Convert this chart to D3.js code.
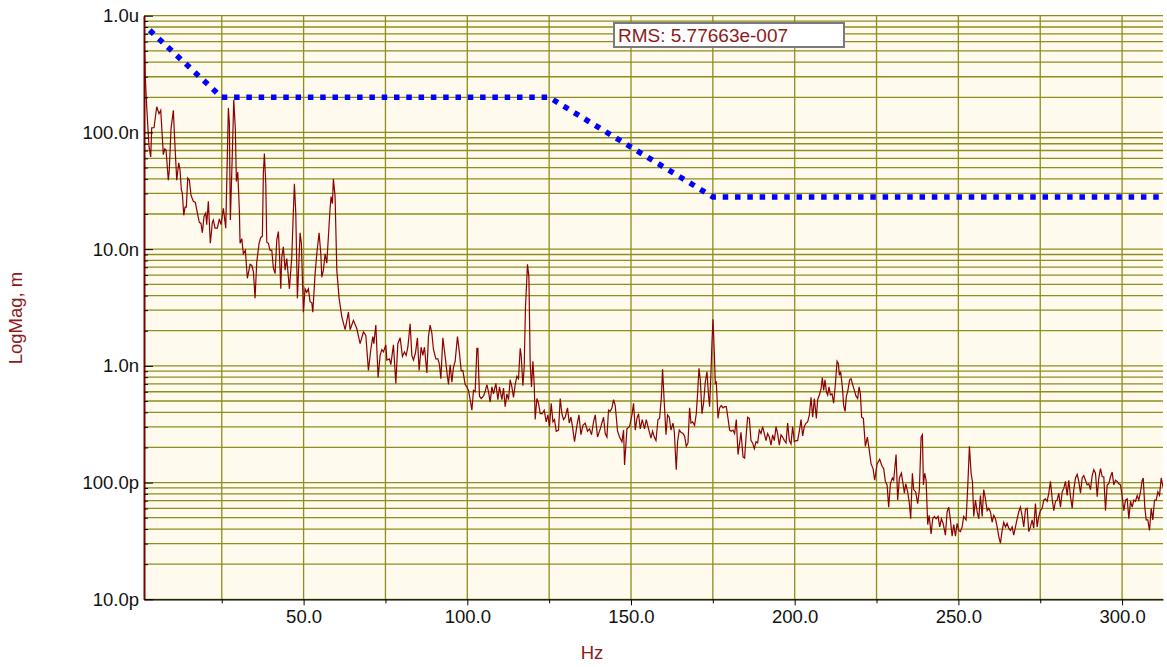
<!DOCTYPE html>
<html>
<head>
<meta charset="utf-8">
<script src="https://cdn.jsdelivr.net/npm/d3@7"></script>
<style>
  body { margin: 0; background: #ffffff; }
  text { font-family: "Liberation Sans", Arial, sans-serif; }
</style>
</head>
<body>
<svg id="chart" width="1167" height="667"></svg>
<script>
// spectrum, frequency in Hz and log10 of magnitude in metres
const specHz = [
  1.25, 1.65, 2.08, 2.78, 3.30, 3.61, 4.31, 5.13, 5.84, 6.36, 6.85, 7.15, 7.58, 7.98, 8.68, 8.98, 9.50, 10.21, 10.63, 11.25,
  11.86, 12.25, 12.65, 12.96, 13.39, 13.78, 14.18, 14.61, 15.10, 15.62, 16.32, 16.93, 17.54, 18.15, 18.67, 19.07, 19.59, 20.11, 20.41, 20.90,
  21.51, 22.13, 22.43, 22.95, 23.65, 24.27, 24.78, 25.49, 26.22, 27.02, 27.32, 27.63, 28.15, 28.67, 29.15, 29.46, 29.89, 30.38, 30.59, 31.11,
  31.60, 32.21, 32.82, 33.65, 34.17, 34.66, 35.17, 35.69, 36.40, 36.92, 37.41, 37.71, 38.02, 38.45, 38.75, 39.24, 39.76, 40.28, 40.77, 41.29,
  41.81, 42.30, 42.60, 43.03, 43.33, 43.82, 44.34, 44.86, 45.26, 45.66, 46.39, 46.88, 47.19, 47.61, 48.10, 48.41, 48.93, 49.32, 49.94, 50.45,
  50.97, 51.46, 51.98, 52.50, 52.81, 53.51, 54.03, 54.73, 55.25, 55.56, 56.05, 56.57, 57.09, 57.58, 58.09, 58.40, 58.80, 59.10, 59.62, 60.14,
  60.84, 61.67, 62.68, 63.69, 64.21, 65.21, 66.25, 67.26, 68.27, 69.01, 69.80, 70.53, 71.14, 71.45, 72.06, 72.76, 73.37, 73.89, 74.38, 75.12,
  75.42, 76.22, 76.64, 77.44, 78.17, 78.78, 79.49, 80.19, 80.80, 81.32, 81.84, 82.54, 83.06, 83.55, 84.16, 84.77, 85.29, 85.90, 86.42, 86.91,
  87.65, 88.14, 88.65, 89.17, 89.66, 90.40, 91.01, 91.50, 91.92, 92.54, 93.24, 93.76, 94.25, 94.77, 95.29, 95.78, 96.29, 97.00, 97.61, 98.13,
  98.65, 99.35, 99.87, 100.36, 100.88, 101.40, 101.89, 102.41, 102.93, 103.23, 103.72, 104.24, 104.94, 105.46, 105.98, 106.47, 106.99, 107.51, 108.00, 108.73,
  109.34, 109.83, 110.57, 111.06, 111.57, 112.09, 112.58, 113.10, 113.62, 114.11, 114.63, 115.15, 115.64, 116.16, 116.46, 116.98, 117.38, 117.78, 118.39, 118.82,
  119.21, 119.61, 120.04, 120.44, 120.74, 121.26, 121.75, 122.27, 122.88, 123.49, 124.10, 124.62, 125.11, 125.63, 126.15, 126.64, 127.16, 127.86, 128.38, 128.90,
  129.39, 129.91, 130.61, 131.13, 131.65, 132.14, 132.75, 133.49, 134.10, 134.71, 135.32, 136.02, 136.73, 137.34, 137.95, 138.56, 139.08, 139.78, 140.61, 141.62,
  142.13, 142.65, 143.14, 143.66, 144.18, 144.67, 145.19, 145.89, 146.50, 147.24, 147.73, 148.03, 148.77, 149.56, 150.29, 150.78, 151.30, 151.82, 152.31, 152.83,
  153.44, 154.14, 154.66, 155.37, 156.10, 156.59, 157.11, 157.63, 158.24, 158.73, 159.25, 159.65, 160.17, 160.69, 161.17, 161.69, 162.21, 162.82, 163.22, 163.83,
  164.23, 164.75, 165.27, 165.88, 166.37, 166.89, 167.41, 167.90, 168.32, 168.81, 169.42, 169.94, 170.34, 170.77, 171.17, 171.69, 172.17, 172.69, 173.21, 173.70,
  174.01, 174.44, 174.74, 175.05, 175.45, 175.75, 176.06, 176.58, 177.06, 177.58, 178.10, 178.59, 179.11, 179.63, 180.12, 180.64, 181.16, 181.65, 182.17, 182.69,
  183.18, 183.60, 184.22, 184.70, 185.22, 185.62, 186.14, 186.66, 187.15, 187.67, 188.19, 188.68, 189.20, 189.72, 190.20, 190.73, 191.24, 191.73, 192.25, 192.77,
  193.26, 193.78, 194.30, 194.79, 195.31, 195.83, 196.32, 196.84, 197.36, 197.85, 198.37, 198.88, 199.37, 199.89, 200.41, 200.90, 201.42, 201.94, 202.43, 202.95,
  203.47, 203.96, 204.48, 205.00, 205.49, 206.01, 206.62, 207.01, 207.53, 208.05, 208.45, 208.85, 209.27, 209.67, 210.07, 210.50, 210.90, 211.41, 211.90, 212.42,
  212.94, 213.34, 213.65, 214.04, 214.56, 214.96, 215.39, 215.79, 216.18, 216.79, 217.22, 217.71, 218.23, 218.75, 219.24, 219.67, 220.06, 220.46, 220.98, 221.59,
  222.20, 222.72, 223.33, 223.94, 224.43, 225.17, 225.96, 226.69, 227.18, 227.70, 228.22, 228.71, 229.23, 229.84, 230.24, 230.97, 231.46, 231.98, 232.59, 232.99,
  233.51, 233.91, 234.52, 235.04, 235.43, 235.95, 236.35, 236.96, 237.57, 238.09, 238.61, 239.01, 239.32, 239.71, 240.14, 240.63, 241.06, 241.67, 242.16, 242.68,
  243.20, 243.81, 244.30, 244.82, 245.34, 246.04, 246.56, 247.05, 247.57, 248.09, 248.58, 249.10, 249.61, 250.10, 250.62, 251.14, 251.63, 252.36, 252.85, 253.37,
  253.89, 254.29, 254.69, 255.21, 255.73, 256.22, 256.74, 257.26, 257.74, 258.26, 258.78, 259.27, 259.79, 260.31, 260.80, 261.32, 261.84, 262.33, 262.85, 263.37,
  263.86, 264.37, 264.89, 265.38, 265.90, 266.42, 266.91, 267.43, 267.95, 268.44, 268.96, 269.48, 269.97, 270.49, 271.01, 271.50, 272.02, 272.53, 273.02, 273.54,
  274.06, 274.55, 275.07, 275.59, 276.08, 276.60, 277.12, 277.61, 278.13, 278.65, 279.14, 279.66, 280.17, 280.66, 281.18, 281.70, 282.19, 282.71, 283.23, 283.72,
  284.24, 284.76, 285.25, 285.77, 286.29, 286.78, 287.30, 287.81, 288.30, 288.82, 289.34, 289.83, 290.35, 290.87, 291.36, 291.88, 292.40, 292.89, 293.41, 293.93,
  294.42, 294.93, 295.45, 295.94, 296.46, 296.98, 297.47, 297.99, 298.51, 299.00, 299.52, 300.04, 300.53, 301.05, 301.57, 302.06, 302.58, 303.09, 303.58, 304.10,
  304.62, 305.11, 305.63, 306.15, 306.46, 306.94, 307.37, 307.86, 308.38, 308.90, 309.39, 309.91, 310.43, 310.92, 311.44, 311.96, 312.50
];
const specLogMag = [
  -6.12, -6.53, -6.78, -7.12, -7.21, -6.96, -6.96, -6.78, -6.84, -6.81, -7.04, -7.19, -7.14, -7.15, -7.41, -7.32, -6.97, -6.81, -7.07, -7.41,
  -7.26, -7.32, -7.49, -7.52, -7.71, -7.64, -7.64, -7.39, -7.41, -7.54, -7.59, -7.60, -7.69, -7.77, -7.78, -7.86, -7.72, -7.69, -7.79, -7.59,
  -7.95, -7.77, -7.75, -7.82, -7.82, -7.74, -7.79, -7.65, -7.82, -6.79, -6.92, -7.75, -7.26, -6.72, -6.97, -7.42, -7.34, -7.67, -7.95, -7.91,
  -8.04, -8.01, -8.25, -8.13, -8.14, -8.19, -8.42, -8.11, -7.95, -7.90, -7.89, -7.35, -7.18, -7.44, -7.94, -7.95, -8.01, -8.01, -8.16, -8.21,
  -7.92, -7.85, -8.02, -8.34, -8.07, -7.98, -8.18, -8.08, -8.21, -8.34, -8.07, -7.67, -7.44, -7.69, -8.42, -8.21, -7.86, -7.95, -8.54, -8.34,
  -8.37, -8.34, -8.45, -8.46, -8.54, -8.21, -8.04, -7.86, -8.04, -8.24, -8.18, -8.04, -8.12, -7.89, -7.65, -7.55, -7.61, -7.40, -7.55, -8.18,
  -8.42, -8.58, -8.69, -8.54, -8.69, -8.61, -8.68, -8.81, -8.71, -8.74, -9.04, -8.86, -8.75, -8.81, -8.65, -9.10, -8.91, -8.86, -8.88, -8.82,
  -8.95, -8.94, -8.99, -8.82, -9.15, -8.81, -8.76, -8.92, -8.88, -8.91, -8.84, -8.64, -8.91, -8.95, -8.89, -8.76, -9.04, -8.84, -8.91, -8.84,
  -9.06, -8.75, -8.65, -8.72, -8.86, -8.94, -8.94, -8.99, -9.11, -8.76, -8.92, -9.05, -9.16, -8.99, -9.14, -9.01, -8.96, -8.75, -8.89, -9.04,
  -9.04, -9.16, -9.18, -9.21, -9.29, -9.38, -9.21, -9.22, -8.85, -8.85, -9.26, -9.28, -9.26, -9.22, -9.16, -9.22, -9.31, -9.18, -9.24, -9.15,
  -9.29, -9.18, -9.29, -9.19, -9.35, -9.24, -9.29, -9.12, -9.18, -9.27, -9.16, -9.09, -9.11, -8.85, -8.91, -9.17, -9.01, -8.49, -8.13, -8.24,
  -8.98, -9.18, -8.96, -9.16, -9.46, -9.28, -9.32, -9.41, -9.41, -9.38, -9.48, -9.42, -9.52, -9.32, -9.48, -9.46, -9.56, -9.55, -9.28, -9.41,
  -9.46, -9.44, -9.36, -9.49, -9.44, -9.52, -9.65, -9.51, -9.42, -9.59, -9.51, -9.49, -9.56, -9.54, -9.59, -9.48, -9.42, -9.61, -9.54, -9.44,
  -9.58, -9.61, -9.38, -9.39, -9.36, -9.29, -9.34, -9.56, -9.61, -9.65, -9.55, -9.85, -9.54, -9.52, -9.42, -9.32, -9.55, -9.45, -9.41, -9.54,
  -9.46, -9.54, -9.46, -9.54, -9.62, -9.56, -9.61, -9.64, -9.46, -9.45, -9.28, -9.03, -9.32, -9.59, -9.42, -9.44, -9.55, -9.49, -9.56, -9.89,
  -9.65, -9.55, -9.57, -9.58, -9.60, -9.69, -9.66, -9.36, -9.49, -9.48, -9.51, -9.41, -9.24, -9.02, -9.12, -9.41, -9.32, -9.14, -9.05, -9.26,
  -9.35, -9.05, -8.79, -8.60, -8.89, -9.15, -9.14, -9.45, -9.36, -9.34, -9.36, -9.35, -9.35, -9.45, -9.55, -9.56, -9.55, -9.58, -9.46, -9.76,
  -9.66, -9.57, -9.78, -9.79, -9.58, -9.44, -9.45, -9.64, -9.66, -9.71, -9.65, -9.66, -9.55, -9.58, -9.52, -9.58, -9.64, -9.58, -9.61, -9.68,
  -9.59, -9.64, -9.52, -9.58, -9.68, -9.59, -9.61, -9.64, -9.66, -9.49, -9.64, -9.67, -9.52, -9.65, -9.64, -9.64, -9.56, -9.46, -9.60, -9.52,
  -9.49, -9.48, -9.42, -9.27, -9.44, -9.28, -9.45, -9.29, -9.25, -9.20, -9.10, -9.21, -9.12, -9.22, -9.25, -9.18, -9.25, -9.24, -9.32, -9.16,
  -8.96, -8.98, -9.08, -9.05, -9.18, -9.34, -9.39, -9.26, -9.22, -9.12, -9.11, -9.16, -9.21, -9.26, -9.28, -9.18, -9.24, -9.44, -9.45, -9.69,
  -9.61, -9.71, -9.84, -9.88, -9.98, -9.84, -9.80, -9.86, -9.88, -9.99, -10.02, -10.21, -10.01, -9.96, -9.98, -9.76, -10.15, -9.96, -9.92, -9.99,
  -10.09, -10.01, -10.08, -10.18, -10.31, -9.92, -10.06, -10.08, -10.18, -10.06, -9.61, -9.59, -10.02, -9.92, -9.98, -10.36, -10.28, -10.44, -10.31, -10.29,
  -10.31, -10.29, -10.38, -10.31, -10.35, -10.45, -10.25, -10.21, -10.32, -10.46, -10.36, -10.46, -10.35, -10.41, -10.42, -10.38, -10.29, -10.32, -10.04, -9.69,
  -9.92, -9.99, -10.29, -10.15, -10.25, -10.31, -10.11, -10.29, -10.06, -10.14, -10.24, -10.22, -10.25, -10.34, -10.28, -10.31, -10.38, -10.46, -10.52, -10.41,
  -10.34, -10.38, -10.35, -10.39, -10.41, -10.38, -10.45, -10.38, -10.31, -10.25, -10.21, -10.29, -10.38, -10.23, -10.22, -10.42, -10.38, -10.32, -10.39, -10.18,
  -10.38, -10.29, -10.24, -10.22, -10.15, -10.14, -10.16, -10.09, -9.99, -10.14, -10.24, -10.16, -10.15, -10.09, -10.21, -10.08, -10.05, -9.99, -10.11, -9.98,
  -10.12, -10.22, -10.06, -9.96, -9.93, -9.99, -10.09, -9.96, -9.94, -9.98, -10.02, -10.01, -10.06, -9.94, -9.89, -9.92, -10.12, -9.96, -9.88, -9.95,
  -9.95, -10.24, -10.02, -10.01, -9.95, -9.91, -10.02, -9.98, -9.99, -10.01, -10.02, -10.12, -10.24, -10.15, -10.14, -10.31, -10.16, -10.21, -10.15, -10.16,
  -10.11, -10.15, -10.08, -9.98, -9.96, -10.21, -10.32, -10.32, -10.41, -10.22, -10.32, -10.15, -10.15, -10.08, -10.11, -9.96, -10.04
];

// limit line (m)
const limitHz = [3, 25, 125, 175, 312.5];
const limitMag = [7.5e-7, 2e-7, 2e-7, 2.8e-8, 2.8e-8];

const xTicks = [50, 100, 150, 200, 250, 300];
const xMinorTicks = [25, 75, 125, 175, 225, 275];
const yTicks = [1e-11, 1e-10, 1e-9, 1e-8, 1e-7, 1e-6];
const yTickLabels = ["10.0p", "100.0p", "1.0n", "10.0n", "100.0n", "1.0u"];
const rmsText = "RMS: 5.77663e-007";

const svg = d3.select("#chart");
const plotLeft = 144, plotRight = 1163, plotTop = 15.7, plotBottom = 599.3;

const x = d3.scaleLinear().domain([1.25, 312.5]).range([plotLeft, plotRight]);
const y = d3.scaleLog().domain([1e-11, 1e-6]).range([plotBottom, plotTop]);

svg.append("rect")
    .attr("x", plotLeft)
    .attr("y", plotTop)
    .attr("width", plotRight - plotLeft)
    .attr("height", plotBottom - plotTop)
    .attr("fill", "#fffaee");

svg.append("clipPath").attr("id", "plotClip")
  .append("rect")
    .attr("x", plotLeft)
    .attr("y", plotTop - 1)
    .attr("width", plotRight - plotLeft)
    .attr("height", plotBottom - plotTop + 1);

const grid = svg.append("g").attr("class", "grid");

grid.selectAll(".hgrid")
    .data(y.ticks())
    .enter()
    .append("line")
    .attr("class", "hgrid")
    .attr("x1", plotLeft)
    .attr("x2", plotRight)
    .attr("y1", d => y(d))
    .attr("y2", d => y(d))
    .attr("stroke", "#8e8e1c")
    .attr("stroke-width", 1.3);

grid.selectAll(".vgrid")
    .data(d3.range(25, 312.5, 25))
    .enter()
    .append("line")
    .attr("class", "vgrid")
    .attr("x1", d => x(d))
    .attr("x2", d => x(d))
    .attr("y1", plotTop)
    .attr("y2", plotBottom)
    .attr("stroke", "#8e8e1c")
    .attr("stroke-width", 1.3);

const spectrum = specHz.map((f, i) => ({ f: f, v: Math.pow(10, specLogMag[i]) }));

const line = d3.line()
    .x(d => x(d.f))
    .y(d => y(d.v));

svg.append("path")
    .datum(spectrum)
    .attr("clip-path", "url(#plotClip)")
    .attr("d", line)
    .attr("fill", "none")
    .attr("stroke", "#8b0000")
    .attr("stroke-width", 1.2);

const limit = limitHz.map((f, i) => ({ f: f, v: limitMag[i] }));

svg.append("path")
    .datum(limit)
    .attr("d", line)
    .attr("fill", "none")
    .attr("stroke", "#0000ff")
    .attr("stroke-width", 5.5)
    .attr("stroke-dasharray", "5.5,6.8");

// x axis
const xAxis = svg.append("g")
    .attr("transform", `translate(0,${plotBottom})`)
    .call(d3.axisBottom(x)
        .tickValues(xTicks)
        .tickFormat(d3.format(".1f"))
        .tickSizeInner(6)
        .tickSizeOuter(0)
        .tickPadding(5));
xAxis.select(".domain").attr("stroke", "#000").attr("stroke-width", 1.3);
xAxis.selectAll("text").style("font-size", "18.5px").attr("fill", "#111");

const xMinor = svg.append("g")
    .attr("transform", `translate(0,${plotBottom})`)
    .call(d3.axisBottom(x).tickValues(xMinorTicks).tickSize(4).tickFormat(""));
xMinor.select(".domain").remove();

// y axis, ticks point into the plot
const yAxis = svg.append("g")
    .attr("transform", `translate(${plotLeft},0)`)
    .call(d3.axisLeft(y)
        .tickValues(yTicks)
        .tickFormat((d, i) => yTickLabels[i])
        .tickSizeInner(-9)
        .tickSizeOuter(0)
        .tickPadding(5));
yAxis.select(".domain").attr("stroke", "#800000").attr("stroke-width", 2);
yAxis.selectAll("text").style("font-size", "18.5px").attr("fill", "#111");

const yMinor = svg.append("g")
    .attr("transform", `translate(${plotLeft},0)`)
    .call(d3.axisLeft(y)
        .tickValues(y.ticks().filter(d => !yTicks.some(t => Math.abs(t - d) / t < 1e-6)))
        .tickSize(-4)
        .tickFormat(""));
yMinor.select(".domain").remove();

// titles
svg.append("text")
    .attr("x", 592)
    .attr("y", 659)
    .attr("text-anchor", "middle")
    .attr("fill", "#8b1a1a")
    .style("font-size", "18.5px")
    .text("Hz");

svg.append("text")
    .attr("transform", "translate(22,318) rotate(-90)")
    .attr("text-anchor", "middle")
    .attr("fill", "#8b1a1a")
    .style("font-size", "18.5px")
    .text("LogMag, m");

// rms box
svg.append("rect")
    .attr("x", 614)
    .attr("y", 23)
    .attr("width", 230)
    .attr("height", 24)
    .attr("fill", "#ffffff")
    .attr("stroke", "#7a7a7a")
    .attr("stroke-width", 2);

svg.append("text")
    .attr("x", 618)
    .attr("y", 42)
    .attr("fill", "#8b1a1a")
    .style("font-size", "19px")
    .text(rmsText);
</script>
</body>
</html>
